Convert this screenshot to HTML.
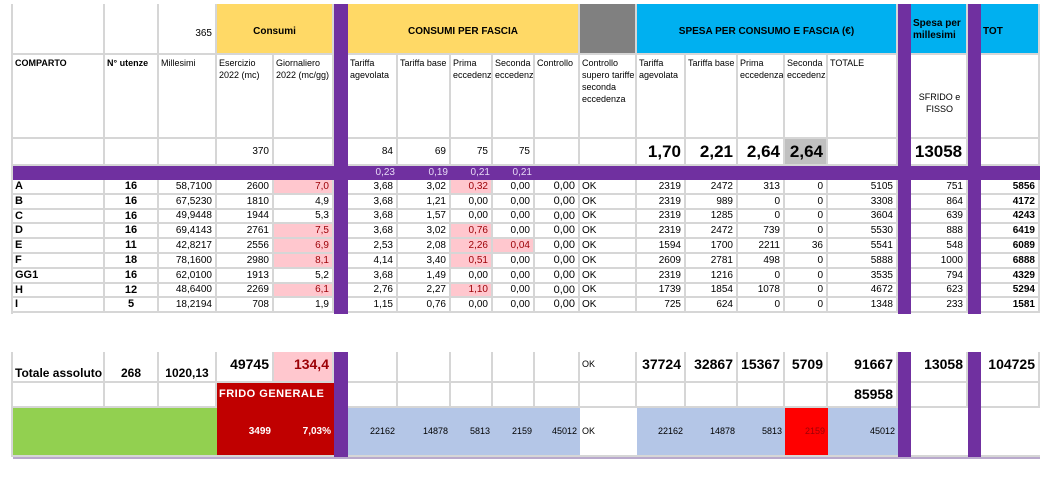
<!DOCTYPE html>
<html><head><meta charset="utf-8"><style>
html,body{margin:0;padding:0;background:#fff;width:1051px;height:480px;overflow:hidden}
#s{position:relative;width:1051px;height:480px;font-family:"Liberation Sans",Arial,sans-serif;color:#000}
.c{position:absolute;box-sizing:border-box;border-right:2px solid #d6d6d6;border-bottom:2px solid #d6d6d6;font-size:10px;line-height:12px;overflow:hidden;white-space:nowrap}
.r{text-align:right;padding-right:3px}
.l{text-align:left;padding-left:2px}
.ct{text-align:center}
.w{white-space:normal}
.n{font-family:"Liberation Sans Narrow","Liberation Sans",sans-serif}
</style></head><body><div id="s"></div>
<script>
const S=document.getElementById('s');
function cell(x1,x2,y1,y2,txt,cls,st,name){
  const el=document.createElement('div');
  el.className='c '+(cls||'');
  el.style.left=x1+'px';el.style.top=y1+'px';el.style.width=(x2-x1)+'px';el.style.height=(y2-y1)+'px';
  if(st)el.style.cssText+=st;
  el.innerHTML=(txt===undefined||txt===null)?'':String(txt);
  
  
  S.appendChild(el);return el;
}
const X=[13,105,159,217,274,334,348,398,451,493,535,580,637,686,738,785,828,898,911,968,981,1040];
const PUR='#7030a0',YEL='#ffd966',BLU='#00b0f0',PINK='#ffc7ce';
// left border
cell(11,13,4,314,'','',"background:#d6d6d6;border:none",'left-border');
cell(11,13,352,457,'','',"background:#d6d6d6;border:none",'left-border');
// header row 1
cell(13,105,4,55,'','',"",'header-blank');
cell(105,159,4,55,'','',"",'header-blank');
cell(159,217,4,55,'365','r',"padding-top:24px",'days-365');
cell(217,334,4,55,'<b>Consumi</b>','ct',"background:"+YEL+";padding-top:22px",'consumi-header');
cell(348,580,4,55,'<b>CONSUMI PER FASCIA</b>','ct',"background:"+YEL+";padding-top:22px",'consumi-per-fascia-header');
cell(580,637,4,55,'','',"background:#808080",'gray-header');
cell(637,898,4,55,'<b>SPESA PER CONSUMO E FASCIA (€)</b>','ct',"background:"+BLU+";padding-top:22px",'spesa-header');
cell(911,968,4,55,'<b>Spesa per<br>millesimi</b>','l',"background:"+BLU+";padding-top:14px",'spesa-millesimi-header');
cell(981,1040,4,55,'<b>TOT</b>','l',"background:"+BLU+";padding-top:22px",'tot-header');
// header row 2
const h2=['<b>COMPARTO</b>','<b>N° utenze</b>','Millesimi','Esercizio 2022 (mc)','Giornaliero 2022 (mc/gg)','','Tariffa agevolata','Tariffa base','Prima eccedenza','Seconda eccedenza','Controllo','Controllo supero tariffe seconda eccedenza','Tariffa agevolata','Tariffa base','Prima eccedenza','Seconda eccedenza','TOTALE','','SFRIDO e FISSO','',''];
for(let i=0;i<21;i++){if(i==5||i==17||i==19)continue;
  const c=cell(X[i],X[i+1],55,139,h2[i],'l w',"padding-top:2px;font-size:9px;line-height:12px",'column-header');
  if(i==18){c.style.textAlign='center';c.style.paddingTop='36px';}
}
// row 3
const r3={3:'370',6:'84',7:'69',8:'75',9:'75'};
const big={12:'1,70',13:'2,21',14:'2,64',15:'2,64',18:'13058'};
for(let i=0;i<21;i++){if(i==5||i==17||i==19)continue;
  if(big[i])cell(X[i],X[i+1],139,166,'<b>'+big[i]+'</b>',i==18?'ct':'r',"font-size:17px;line-height:26px;"+(i==15?"background:#c0c0c0":""),'rate-value');
  else cell(X[i],X[i+1],139,166,r3[i]||'','r',"line-height:26px",'threshold-value');
}
// purple band
cell(13,1040,166,180,'','',"background:"+PUR+";border:none",'purple-band');
const pv={6:'0,23',7:'0,19',8:'0,21',9:'0,21'};
for(const k in pv)cell(X[k],X[+k+1],166,180,pv[k],'r',"background:transparent;border:none;color:#e6d8f5;line-height:13px",'unit-price');
// data
const names=['A','B','C','D','E','F','GG1','H','I'];
const utenze=[16,16,16,16,11,18,16,12,5];
const mill=['58,7100','67,5230','49,9448','69,4143','42,8217','78,1600','62,0100','48,6400','18,2194'];
const eserc=[2600,1810,1944,2761,2556,2980,1913,2269,708];
const giorn=['7,0','4,9','5,3','7,5','6,9','8,1','5,2','6,1','1,9'];
const tagev=['3,68','3,68','3,68','3,68','2,53','4,14','3,68','2,76','1,15'];
const tbase=['3,02','1,21','1,57','3,02','2,08','3,40','1,49','2,27','0,76'];
const prima=['0,32','0,00','0,00','0,76','2,26','0,51','0,00','1,10','0,00'];
const seconda=['0,00','0,00','0,00','0,00','0,04','0,00','0,00','0,00','0,00'];
const sAgev=[2319,2319,2319,2319,1594,2609,2319,1739,725];
const sBase=[2472,989,1285,2472,1700,2781,1216,1854,624];
const sPrima=[313,0,0,739,2211,498,0,1078,0];
const sSec=[0,0,0,0,36,0,0,0,0];
const sTot=[5105,3308,3604,5530,5541,5888,3535,4672,1348];
const sfrido=[751,864,639,888,548,1000,794,623,233];
const tot=[5856,4172,4243,6419,6089,6888,4329,5294,1581];
const RH=14.8;
for(let j=0;j<9;j++){
  const y1=Math.round(180+j*RH),y2=Math.round(180+(j+1)*RH);
  const pk=()=>"background:"+PINK+";color:#9c0006";
  const gHigh=parseFloat(giorn[j].replace(',','.'))>6;
  const vals=['<b>'+names[j]+'</b>','<b>'+utenze[j]+'</b>',mill[j],eserc[j],giorn[j],null,tagev[j],tbase[j],prima[j],seconda[j],'0,00','OK',sAgev[j],sBase[j],sPrima[j],sSec[j],sTot[j],null,sfrido[j],null,'<b>'+tot[j]+'</b>'];
  for(let i=0;i<21;i++){if(vals[i]===null)continue;
    let cls='r',st='line-height:'+(y2-y1-2)+'px;';
    if(i==0||i==11)cls='l';
    if(i==1){cls='ct';st+='font-size:11px;';}
    if(i==0)st+='font-size:11px;';
    if(i==10)st+='font-size:11px;';
    if(i==4&&gHigh)st+=pk();
    if(i==8&&prima[j]!='0,00')st+=pk();
    if(i==9&&seconda[j]!='0,00')st+=pk();
    cell(X[i],X[i+1],y1,y2,vals[i],cls,st,'row-'+names[j].toLowerCase());
  }
}
// totals
const T=352,F=383,G=408,B=457;
const tv=['<b>Totale assoluto</b>','<b>268</b>','<b>1020,13</b>','<b>49745</b>','<b>134,4</b>',null,'','','','','','OK','<b>37724</b>','<b>32867</b>','<b>15367</b>','<b>5709</b>','<b>91667</b>',null,'<b>13058</b>',null,'<b>104725</b>'];
for(let i=0;i<21;i++){if(tv[i]===null)continue;
  let st="font-size:12px;",cls='r';
  if(i<3){st+="padding-top:15px;";cls=i==0?'l':'ct';}
  else if(i==11){st="font-size:9px;padding-top:6px;";cls='l';}
  else st+="font-size:14px;padding-top:6px;";
  if(i==4)st+="background:"+PINK+";color:#9c0006;";
  cell(X[i],X[i+1],T,F,tv[i],cls+' n',st,'total-'+i);
}
for(let i=0;i<21;i++){if(i==3||i==4||i==5||i==17||i==19)continue;
  cell(X[i],X[i+1],F,G,i==16?'<b>85958</b>':'','r n',"font-size:14px;line-height:22px",'frido-row-cell');
}
cell(217,334,F,B,'<b>FRIDO GENERALE</b>','l',"background:#c00000;color:#fff;font-size:11px;padding-top:5px;letter-spacing:0.5px;border-right:none",'frido-generale');
cell(217,274,G,B,'<b>3499</b>','r',"background:transparent;border:none;color:#fff;line-height:48px",'frido-value');
cell(274,334,G,B,'<b>7,03%</b>','r',"background:transparent;border:none;color:#fff;line-height:48px",'frido-percent');
cell(13,217,G,B,'','',"background:#92d050;border-right:none",'green-block');
const gv={6:'22162',7:'14878',8:'5813',9:'2159',10:'45012',11:'OK',12:'22162',13:'14878',14:'5813',15:'2159',16:'45012',18:'',20:''};
for(const k in gv){const i=+k;let bg='#b4c6e7',st="border-right:none;font-size:9px;line-height:46px;";
  if(i==11||i==18||i==20)bg='#fff';
  if(i==15){bg='#ff0000';st+="color:#9c0006;";}
  cell(X[i],X[i+1],G,B,gv[k],i==11?'l':'r',st+"background:"+bg,'balance-cell');
}
// purple bars
for(const [a,b] of [[334,348],[898,911],[968,981]]){
  cell(a,b,4,314,'','',"background:"+PUR+";border:none",'purple-divider');
  cell(a,b,T,B,'','',"background:"+PUR+";border:none",'purple-divider');
}
cell(13,1040,B,B+2,'','',"background:#b9a9cc;border:none",'bottom-border');
</script></body></html>
